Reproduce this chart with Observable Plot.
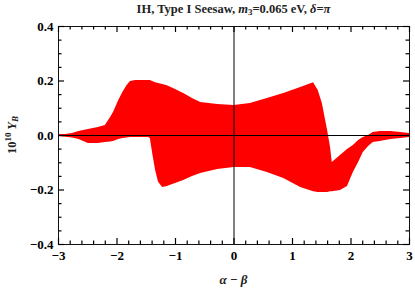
<!DOCTYPE html>
<html><head><meta charset="utf-8">
<script src="https://cdn.jsdelivr.net/npm/d3@7"></script>
<script src="https://cdn.jsdelivr.net/npm/@observablehq/plot@0.6"></script>
<style>body{margin:0;background:#fff} svg{display:block}</style>
</head><body><div id="chart"></div>
<script>
// alpha - beta grid
const alphaMinusBeta = [-3.00,-2.88,-2.76,-2.65,-2.49,-2.32,-2.20,-2.11,-2.06,-1.97,-1.90,-1.83,-1.77,-1.68,-1.46,-1.43,-1.39,-1.34,-1.29,-1.22,-1.14,-1.00,-0.86,-0.71,-0.57,-0.28,0.00,0.28,0.57,0.85,1.14,1.36,1.44,1.51,1.60,1.65,1.68,1.82,1.94,2.04,2.13,2.21,2.30,2.38,2.50,2.68,2.85,3.00];
// upper envelope of 10^10 Y_B
const yUpper = [0.004,0.004,0.007,0.015,0.022,0.029,0.037,0.066,0.084,0.128,0.158,0.183,0.198,0.202,0.202,0.202,0.198,0.194,0.191,0.187,0.183,0.169,0.154,0.136,0.121,0.114,0.110,0.117,0.136,0.154,0.176,0.194,0.165,0.117,0.018,-0.044,-0.099,-0.073,-0.051,-0.037,-0.018,-0.007,0.000,0.011,0.015,0.015,0.011,0.007];
// lower envelope of 10^10 Y_B
const yLower = [-0.004,-0.006,-0.009,-0.015,-0.029,-0.029,-0.026,-0.024,-0.022,-0.015,-0.011,-0.009,-0.007,-0.007,-0.007,-0.011,-0.066,-0.128,-0.172,-0.191,-0.187,-0.176,-0.165,-0.150,-0.139,-0.125,-0.117,-0.117,-0.136,-0.158,-0.191,-0.206,-0.209,-0.209,-0.209,-0.206,-0.206,-0.202,-0.187,-0.136,-0.099,-0.062,-0.040,-0.026,-0.022,-0.015,-0.011,-0.007];

const xMajorTicks = [-3,-2,-1,0,1,2,3];
const xMinorTicks = [-2.8,-2.6,-2.4,-2.2,-1.8,-1.6,-1.4,-1.2,-0.8,-0.6,-0.4,-0.2,0.2,0.4,0.6,0.8,1.2,1.4,1.6,1.8,2.2,2.4,2.6,2.8];
const yMajorTicks = [-0.4,-0.2,0,0.2,0.4];
const yMinorTicks = [-0.35,-0.3,-0.25,-0.15,-0.1,-0.05,0.05,0.1,0.15,0.25,0.3,0.35];

const data = alphaMinusBeta.map((x,i)=>({x, y1: yLower[i], y2: yUpper[i]}));

const W = 415, H = 291, mL = 58, mR = 6, mT = 26, mB = 47;
const pw = W - mL - mR, ph = H - mT - mB;
const xDom = [-3, 3], yDom = [-0.4, 0.4];
const maj = 6, mnr = 3.5;
const tickStroke = "#000";
const tw = 1.2;

const chart = Plot.plot({
  width: W, height: H,
  marginLeft: mL, marginRight: mR, marginTop: mT, marginBottom: mB,
  style: {fontFamily: "'Liberation Serif', 'Times New Roman', serif", fontSize: "13px", fontWeight: "bold", background: "white", overflow: "visible"},
  x: {domain: xDom},
  y: {domain: yDom},
  marks: [
    Plot.areaY(data, {x: "x", y1: "y1", y2: "y2", fill: "#ff0000", curve: "linear"}),
    Plot.ruleX([0], {stroke: "black", strokeWidth: 1}),
    Plot.ruleY([0], {stroke: "black", strokeWidth: 1}),
    Plot.frame({stroke: "#111", strokeWidth: 1}),
    Plot.axisX({ticks: xMajorTicks, tickSize: 0, tickPadding: 6, label: null, tickFormat: d3.format("d")}),
    Plot.axisY({ticks: yMajorTicks, tickSize: 0, tickPadding: 5, label: null, tickFormat: d3.format(".1f")}),
    // inward ticks, bottom/top
    Plot.tickX(xMajorTicks, {x: d=>d, insetTop: ph - maj, stroke: tickStroke, strokeWidth: tw}),
    Plot.tickX(xMajorTicks, {x: d=>d, insetBottom: ph - maj, stroke: tickStroke, strokeWidth: tw}),
    Plot.tickX(xMinorTicks, {x: d=>d, insetTop: ph - mnr, stroke: tickStroke, strokeWidth: tw}),
    Plot.tickX(xMinorTicks, {x: d=>d, insetBottom: ph - mnr, stroke: tickStroke, strokeWidth: tw}),
    // inward ticks, left/right
    Plot.tickY(yMajorTicks, {y: d=>d, insetRight: pw - maj, stroke: tickStroke, strokeWidth: tw}),
    Plot.tickY(yMajorTicks, {y: d=>d, insetLeft: pw - maj, stroke: tickStroke, strokeWidth: tw}),
    Plot.tickY(yMinorTicks, {y: d=>d, insetRight: pw - mnr, stroke: tickStroke, strokeWidth: tw}),
    Plot.tickY(yMinorTicks, {y: d=>d, insetLeft: pw - mnr, stroke: tickStroke, strokeWidth: tw})
  ]
});

const svg = d3.select(chart);
// Title
const t = svg.append("text").attr("x", mL + pw/2).attr("y", 13).attr("text-anchor", "middle")
  .attr("font-size", 12.5).attr("font-weight", "bold").attr("fill", "#222");
t.append("tspan").text("IH, Type I Seesaw, ");
t.append("tspan").attr("font-style", "italic").text("m");
t.append("tspan").attr("font-size", 9).attr("dy", 2).text("3");
t.append("tspan").attr("dy", -2).text("=0.065 eV, ");
t.append("tspan").attr("font-style", "italic").text("δ");
t.append("tspan").text("=");
t.append("tspan").attr("font-style", "italic").text("π");

// Y label
const yl = svg.append("text").attr("transform", `translate(16,${mT + ph/2}) rotate(-90)`)
  .attr("text-anchor", "middle").attr("font-size", 12.5).attr("font-weight", "bold").attr("fill", "#222");
yl.append("tspan").text("10");
yl.append("tspan").attr("font-size", 9).attr("dy", -5).text("10");
yl.append("tspan").attr("dy", 5).attr("font-style", "italic").text(" Y");
yl.append("tspan").attr("font-size", 9).attr("dy", 2).attr("font-style", "italic").text("B");

// X label
const xl = svg.append("text").attr("x", mL + pw/2).attr("y", 284).attr("text-anchor", "middle")
  .attr("font-size", 13).attr("font-weight", "bold").attr("fill", "#222");
xl.append("tspan").attr("font-style", "italic").text("α");
xl.append("tspan").text(" − ");
xl.append("tspan").attr("font-style", "italic").text("β");

document.getElementById("chart").appendChild(chart);
</script>
</body></html>
